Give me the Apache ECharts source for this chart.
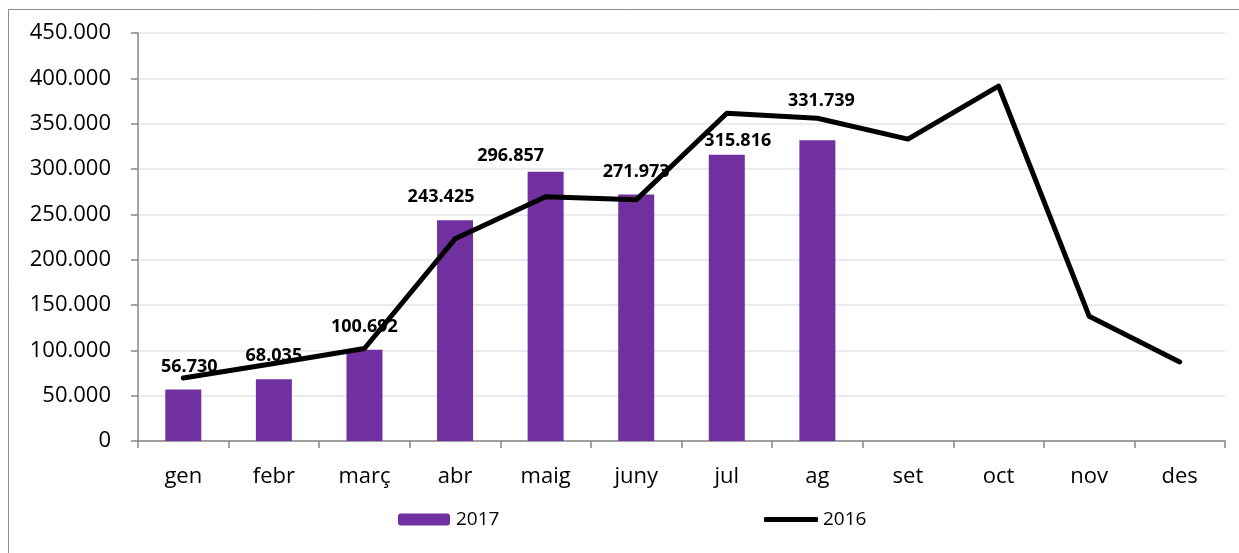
<!DOCTYPE html>
<html>
<head>
<meta charset="utf-8">
<script src="https://cdn.jsdelivr.net/npm/echarts@6/dist/echarts.min.js"></script>
<style>
  html, body { margin: 0; padding: 0; background: #fff; }
  #main { width: 1239px; height: 553px; }
</style>
</head>
<body>
<div id="main"></div>
<script>
// dades
var mesos = ['gen', 'febr', 'març', 'abr', 'maig', 'juny', 'jul', 'ag', 'set', 'oct', 'nov', 'des'];
var valors2017 = [56730, 68035, 100692, 243425, 296857, 271973, 315816, 331739];
var valors2016 = [69500, 85500, 102000, 223000, 269500, 266000, 361500, 356000, 333000, 391500, 137700, 87200];

// posició manual de les etiquetes (com a l'Excel original)
var etiqDx = [6, 0, 0, -14, -35, 0, 11, 4];
var etiqDist = [14, 14, 14, 14, 7, 14, 5, 30];

function formatMil(v) {
    return String(v).replace(/\B(?=(\d{3})+(?!\d))/g, '.');
}

var chart = echarts.init(document.getElementById('main'));
var fontFam = '"Open Sans", "Noto Sans", sans-serif';

var dadesBarres = valors2017.map(function (v, i) {
    return { value: v, label: { offset: [etiqDx[i], 0], distance: etiqDist[i] } };
});

chart.setOption({
    animation: false,
    textStyle: { fontFamily: fontFam },
    graphic: [{
        type: 'rect',
        shape: { x: 8.5, y: 9.5, width: 1400, height: 700 },
        style: { fill: 'none', stroke: '#8c8c8c', lineWidth: 1 },
        silent: true
    }],
    grid: { left: 138, top: 33, right: 14, bottom: 112 },
    legend: [{
        data: ['2017'],
        left: 398, top: 510, padding: 0,
        itemWidth: 52, itemHeight: 12,
        textStyle: { fontSize: 19, color: '#000', fontFamily: fontFam, padding: [0, 0, 0, 1] }
    }, {
        data: [{ name: '2016', icon: 'roundRect', itemStyle: { color: '#000' } }],
        left: 764, top: 510, padding: 0,
        itemWidth: 54, itemHeight: 5,
        textStyle: { fontSize: 19, color: '#000', fontFamily: fontFam }
    }],
    xAxis: {
        type: 'category',
        data: mesos,
        axisLine: { lineStyle: { color: '#868686', width: 1.5 } },
        axisTick: { show: true, length: 7, lineStyle: { color: '#868686', width: 1.5 } },
        axisLabel: { fontSize: 22, color: '#000', margin: 25, fontFamily: fontFam }
    },
    yAxis: {
        type: 'value',
        min: 0, max: 450000, interval: 50000,
        axisLine: { show: true, lineStyle: { color: '#868686', width: 1.5 } },
        axisTick: { show: true, length: 7, lineStyle: { color: '#868686', width: 1.5 } },
        splitLine: { lineStyle: { color: '#e4e4e4', width: 1.5 } },
        axisLabel: {
            fontSize: 22, color: '#000', margin: 27, fontFamily: fontFam,
            formatter: function (v) { return formatMil(v); }
        }
    },
    series: [{
        name: '2017',
        type: 'bar',
        data: dadesBarres,
        barWidth: 36,
        z: 2,
        itemStyle: { color: '#7030A0' },
        label: {
            show: true,
            position: 'top',
            fontSize: 18,
            fontWeight: 'bold',
            color: '#000',
            fontFamily: fontFam,
            formatter: function (p) { return formatMil(p.value); }
        }
    }, {
        name: '2016',
        type: 'line',
        data: valors2016,
        symbol: 'none',
        z: 5,
        lineStyle: { color: '#000', width: 5, cap: 'round', join: 'round' },
        itemStyle: { color: '#000' }
    }]
});
</script>
</body>
</html>
